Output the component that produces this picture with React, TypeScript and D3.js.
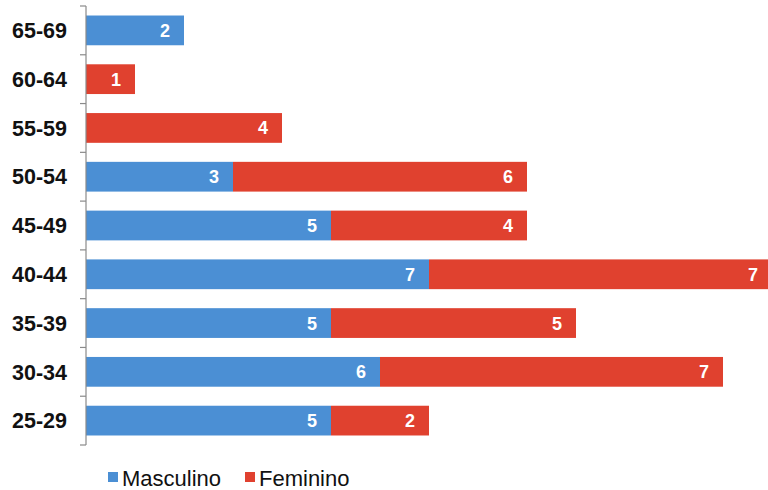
import React from "react";
import * as d3 from "d3";

const categories = ["65-69", "60-64", "55-59", "50-54", "45-49", "40-44", "35-39", "30-34", "25-29"];
const masculino = [2, 0, 0, 3, 5, 7, 5, 6, 5];
const feminino = [0, 1, 4, 6, 4, 7, 5, 7, 2];
const seriesNames = ["Masculino", "Feminino"];
const colors = ["#4b8fd4", "#e0412f"];

export default function App() {
  const W = 768, H = 490;
  const x = d3.scaleLinear().domain([0, 1]).range([86, 135]);
  const y = d3.scaleBand().domain(categories).range([6, 445]).paddingInner(0.39).paddingOuter(0.195);
  const rows = categories.map((c, i) => ({ cat: c, m: masculino[i], f: feminino[i] }));
  const stack = d3.stack<any>().keys(["m", "f"])(rows);
  const font = "'Liberation Sans', Arial, sans-serif";
  const step = y.step();
  return (
    <svg width={W} height={H} style={{ position: "absolute", left: 0, top: 0 }}>
      <rect width={W} height={H} fill="#fff" />
      {stack.map((s, si) =>
        s.map((d, i) => {
          const v = d[1] - d[0];
          if (v <= 0) return null;
          const x0 = x(d[0]), x1 = x(d[1]);
          const yy = y(categories[i])!;
          return (
            <g key={si + "-" + i}>
              <rect x={x0} y={yy} width={x1 - x0} height={y.bandwidth()} fill={colors[si]} />
              <text x={x1 - 14} y={yy + y.bandwidth() / 2} dy="0.36em" textAnchor="end" fill="#fff"
                fontFamily={font} fontWeight="bold" fontSize={18}>{v}</text>
            </g>
          );
        })
      )}
      <line x1={86} x2={86} y1={6} y2={445} stroke="#8a8a8a" strokeWidth={1.2} />
      {d3.range(categories.length + 1).map((k) => (
        <line key={k} x1={80} x2={86} y1={6 + k * step} y2={6 + k * step} stroke="#8a8a8a" strokeWidth={1.2} />
      ))}
      {categories.map((c) => (
        <text key={c} x={67} y={y(c)! + y.bandwidth() / 2} dy="0.36em" textAnchor="end" fill="#111"
          fontFamily={font} fontWeight="bold" fontSize={21.5}>{c}</text>
      ))}
      <g>
        <rect x={108} y={472} width={10} height={10} fill={colors[0]} />
        <text x={122} y={478} dy="0.36em" fontFamily={font} fontSize={22} fill="#111">{seriesNames[0]}</text>
        <rect x={245} y={472} width={10} height={10} fill={colors[1]} />
        <text x={259} y={478} dy="0.36em" fontFamily={font} fontSize={22} fill="#111">{seriesNames[1]}</text>
      </g>
    </svg>
  );
}
